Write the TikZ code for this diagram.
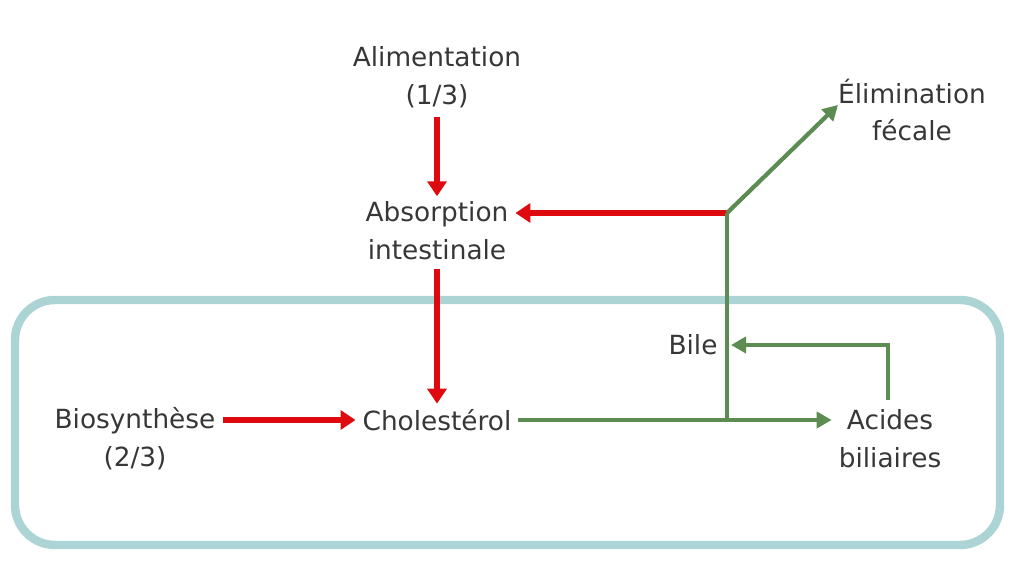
\documentclass[tikz,border=0pt]{standalone}
\usepackage{fontspec}
\setmainfont{DejaVu Sans}
\usetikzlibrary{arrows.meta}
\definecolor{flred}{RGB}{222,10,16}
\definecolor{flgreen}{RGB}{92,140,82}
\definecolor{flteal}{RGB}{172,212,212}
\definecolor{fltext}{RGB}{55,55,55}
\tikzset{
  lbl/.style={align=center,text=fltext,inner sep=1pt,font=\fontsize{15}{21.5}\selectfont},
  redarrow/.style={flred,line width=3.8pt,-{Triangle[length=0.3cm,width=0.38cm]}},
  greenline/.style={flgreen,line width=2.4pt},
  greenarrow/.style={greenline,-{Triangle[length=0.3cm,width=0.32cm]}}
}
\begin{document}
\begin{tikzpicture}
    \useasboundingbox (0,0) rectangle (20.38,11.24);
    \draw[flteal,line width=4.8pt,rounded corners=0.8cm] (0.30,0.34) rectangle (20.00,5.24);
    % labels
    \node[lbl] (alim) at (8.74,9.70) {Alimentation\\(1/3)};
    \node[lbl] (absorp) at (8.74,6.62) {Absorption\\intestinale};
    \node[lbl] (chol) at (8.74,2.84) {Cholestérol};
    \node[lbl] (bio) at (2.70,2.46) {Biosynthèse\\(2/3)};
    \node[lbl] (acides) at (17.80,2.46) {Acides\\biliaires};
    \node[lbl] (bile) at (13.86,4.34) {Bile};
    \node[lbl] (elim) at (18.24,9.04) {Élimination\\fécale};
    \coordinate (split) at (14.54,2.84);
    \coordinate (fork) at (14.54,6.98);
    \coordinate (elimtip) at (16.76,9.14);
    \coordinate (loop) at (17.76,4.34);
    \coordinate (biletip) at (14.62,4.34);
    % red arrows
    \draw[redarrow] ([yshift=-4pt]alim.south) -- ([yshift=2pt]absorp.north);
    \draw[redarrow] ([yshift=-4pt]absorp.south) -- ([yshift=2pt]chol.north);
    \draw[redarrow] (bio.east |- chol) ++(0.1,0) -- ([xshift=-0.1cm]chol.west);
    \draw[redarrow] (fork) -- ([xshift=0.1cm]absorp.east |- fork);
    % green arrows
    \draw[greenarrow] ([xshift=0.08cm]chol.east) -- ([xshift=-0.1cm]acides.west |- chol);
    \draw[greenline,line join=round] (split) -- (fork);
    \draw[greenarrow] (fork) -- (elimtip);
    \draw[greenarrow] ([yshift=0.15cm]acides.north -| loop) -- (loop) -- (biletip);
\end{tikzpicture}
\end{document}
